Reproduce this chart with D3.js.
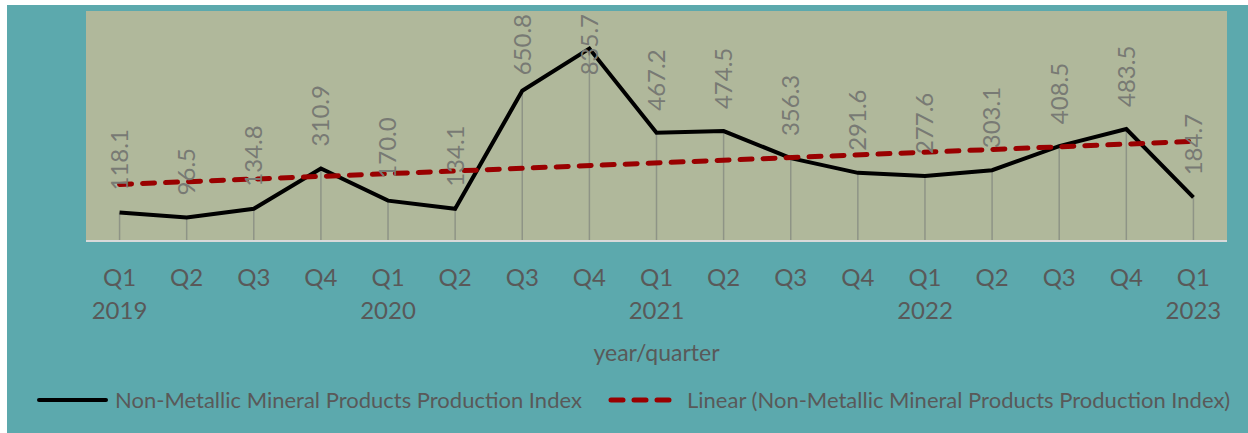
<!DOCTYPE html>
<html>
<head>
    <script src="https://cdn.jsdelivr.net/npm/d3@7"></script>
    <style>
        body { margin: 0; background: #ffffff; }
        svg { display: block; font-family: Lato, "Open Sans", sans-serif; }
    </style>
</head>
<body>
    <svg id="chart" width="1248" height="433"></svg>

    <script>
        // data
        const quarters = ["Q1", "Q2", "Q3", "Q4", "Q1", "Q2", "Q3", "Q4", "Q1",
                          "Q2", "Q3", "Q4", "Q1", "Q2", "Q3", "Q4", "Q1"];
        const years = ["2019", "", "", "", "2020", "", "", "", "2021",
                       "", "", "", "2022", "", "", "", "2023"];
        const values = [118.1, 96.5, 134.8, 310.9, 170.0, 134.1, 650.8, 835.7, 467.2,
                        474.5, 356.3, 291.6, 277.6, 303.1, 408.5, 483.5, 184.7];
        const seriesName = "Non-Metallic Mineral Products Production Index";
        const trendName = "Linear (Non-Metallic Mineral Products Production Index)";

        const svg = d3.select("#chart");

        // outer background
        svg.append("rect")
            .attr("x", 7).attr("y", 5)
            .attr("width", 1241).attr("height", 428)
            .attr("fill", "#5ca9ad");

        const plot = { left: 86, right: 1227, top: 11, bottom: 240 };

        svg.append("rect")
            .attr("x", plot.left).attr("y", plot.top)
            .attr("width", plot.right - plot.left)
            .attr("height", plot.bottom - plot.top)
            .attr("fill", "#b0b89b");

        const idx = d3.range(values.length);

        const x = d3.scalePoint()
            .domain(idx)
            .range([plot.left, plot.right])
            .padding(0.5);

        const y = d3.scaleLinear()
            .domain([0, 1000])
            .range([plot.bottom - 0.5, plot.top]);

        // linear trend (least squares over 1..n)
        const xs = idx.map(i => i + 1);
        const mx = d3.mean(xs), my = d3.mean(values);
        const slope = d3.sum(xs, (v, i) => (v - mx) * (values[i] - my)) /
                      d3.sum(xs, v => (v - mx) * (v - mx));
        const icpt = my - slope * mx;
        const trend = d => icpt + slope * (d + 1);

        // drop lines
        svg.append("g")
            .selectAll("line")
            .data(idx)
            .enter()
            .append("line")
                .attr("x1", d => x(d))
                .attr("x2", d => x(d))
                .attr("y1", d => y(values[d]))
                .attr("y2", plot.bottom)
                .attr("stroke", "#8e9486")
                .attr("stroke-width", 1.5);

        // baseline
        svg.append("line")
            .attr("x1", plot.left).attr("x2", plot.right)
            .attr("y1", plot.bottom + 1).attr("y2", plot.bottom + 1)
            .attr("stroke", "#d9d9d9")
            .attr("stroke-width", 2);

        // series line
        const line = d3.line()
            .x(d => x(d))
            .y(d => y(values[d]));

        svg.append("path")
            .datum(idx)
            .attr("d", line)
            .attr("fill", "none")
            .attr("stroke", "#000000")
            .attr("stroke-width", 4)
            .attr("stroke-linejoin", "miter");

        svg.append("path")
            .datum([0, values.length - 1])
            .attr("d", d3.line()
                .x(d => x(d))
                .y(d => y(trend(d))))
            .attr("fill", "none")
            .attr("stroke", "#990000")
            .attr("stroke-width", 5)
            .attr("stroke-linecap", "round")
            .attr("stroke-dasharray", "12,11");

        // value labels, rotated
        const labels = svg.append("g")
            .selectAll("text")
            .data(idx)
            .enter()
            .append("text")
                .attr("font-size", 24)
                .attr("fill", "#787a74")
                .attr("dy", "0.35em")
                .text(d => values[d].toFixed(1));

        labels.each(function(d) {
            const len = this.getComputedTextLength();
            let by = y(values[d]) - 22;
            if (by - len < plot.top + 3) by = plot.top + 3 + len;
            d3.select(this).attr("transform", "translate(" + x(d) + "," + by + ") rotate(-90)");
        });

        // category axis labels
        svg.append("g")
            .selectAll("text")
            .data(idx)
            .enter()
            .append("text")
                .attr("x", d => x(d))
                .attr("y", 286)
                .attr("text-anchor", "middle")
                .attr("font-size", 24)
                .attr("fill", "#595959")
                .text(d => quarters[d]);

        svg.append("g")
            .selectAll("text")
            .data(idx.filter(i => years[i] !== ""))
            .enter()
            .append("text")
                .attr("x", d => x(d))
                .attr("y", 319)
                .attr("text-anchor", "middle")
                .attr("font-size", 24)
                .attr("fill", "#595959")
                .text(d => years[d]);

        svg.append("text")
            .attr("x", (plot.left + plot.right) / 2)
            .attr("y", 361)
            .attr("text-anchor", "middle")
            .attr("font-size", 23)
            .attr("fill", "#595959")
            .text("year/quarter");

        // legend
        const ly = 400;
        svg.append("line")
            .attr("x1", 39).attr("x2", 106)
            .attr("y1", ly).attr("y2", ly)
            .attr("stroke", "#000000")
            .attr("stroke-width", 4)
            .attr("stroke-linecap", "round");

        svg.append("text")
            .attr("x", 115).attr("y", ly + 8)
            .attr("font-size", 22)
            .attr("fill", "#595959")
            .text(seriesName);

        svg.append("line")
            .attr("x1", 611).attr("x2", 676)
            .attr("y1", ly).attr("y2", ly)
            .attr("stroke", "#990000")
            .attr("stroke-width", 5)
            .attr("stroke-linecap", "round")
            .attr("stroke-dasharray", "12,11");

        svg.append("text")
            .attr("x", 687).attr("y", ly + 8)
            .attr("font-size", 22)
            .attr("fill", "#595959")
            .text(trendName);
    </script>
</body>
</html>
